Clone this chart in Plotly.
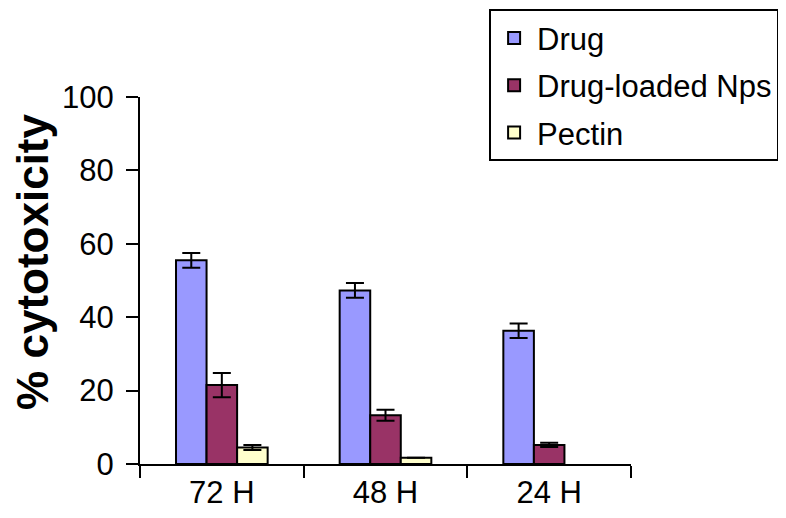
import plotly.graph_objects as go

# categories along the x axis
times = ["72 H", "48 H", "24 H"]

# % cytotoxicity (mean) and error bar (+/-) per series
drug = [55.5, 47.3, 36.3]
drug_err = [2.0, 2.0, 2.0]

nps = [21.5, 13.3, 5.2]
nps_err = [3.3, 1.5, 0.6]

pectin = [4.5, 1.7, None]
pectin_err = [0.7, 0.0, 0.0]

series = [
    ("Drug", drug, drug_err, "#9999FF"),
    ("Drug-loaded Nps", nps, nps_err, "#993366"),
    ("Pectin", pectin, pectin_err, "#FFFFCC"),
]

fig = go.Figure()
for i, (name, vals, errs, colour) in enumerate(series):
    fig.add_trace(go.Bar(
        x=times,
        y=vals,
        name=name,
        legendgroup=f"g{i}",
        marker=dict(color=colour, line=dict(color="black", width=2)),
        error_y=dict(type="data", array=errs, visible=True,
                     color="black", thickness=2, width=9),
    ))

# page body adds an 8px offset, so the figure is sized to fit the window;
# autoexpand off so the legend up in the corner doesn't shrink the plot
fig.update_layout(
    template="none",
    width=778,
    height=510,
    paper_bgcolor="white",
    plot_bgcolor="white",
    font=dict(family="Liberation Sans, Arial, sans-serif", color="black", size=31),
    margin=dict(l=132, r=155, t=89, b=54, autoexpand=False),
    barmode="group",
    bargap=0.44,
    bargroupgap=0,
    showlegend=True,
    legend=dict(
        x=0.711, y=1.239, xanchor="left", yanchor="top",
        bgcolor="white", bordercolor="black", borderwidth=2,
        font=dict(size=31),
        itemwidth=36,
        traceorder="grouped",
        tracegroupgap=4,
    ),
)

fig.update_xaxes(
    showline=True, linecolor="black", linewidth=2,
    showgrid=False, zeroline=False,
    ticks="outside", tickson="boundaries", ticklen=12, tickwidth=2, tickcolor="black",
    tickfont=dict(size=31),
)

fig.update_yaxes(
    range=[0, 100], dtick=20,
    showline=True, linecolor="black", linewidth=2,
    showgrid=False, zeroline=False,
    ticks="outside", ticklen=12, tickwidth=2, tickcolor="black",
    ticklabelstandoff=6,
    tickfont=dict(size=31),
)

# axis title placed as a rotated annotation, it sits a bit above the axis centre
fig.add_annotation(
    text="<b>% cytotoxicity</b>",
    xref="paper", yref="paper", x=-0.219, y=0.552,
    xanchor="center", yanchor="middle",
    textangle=-90, showarrow=False,
    font=dict(size=44),
)

fig.write_html("out.html")
